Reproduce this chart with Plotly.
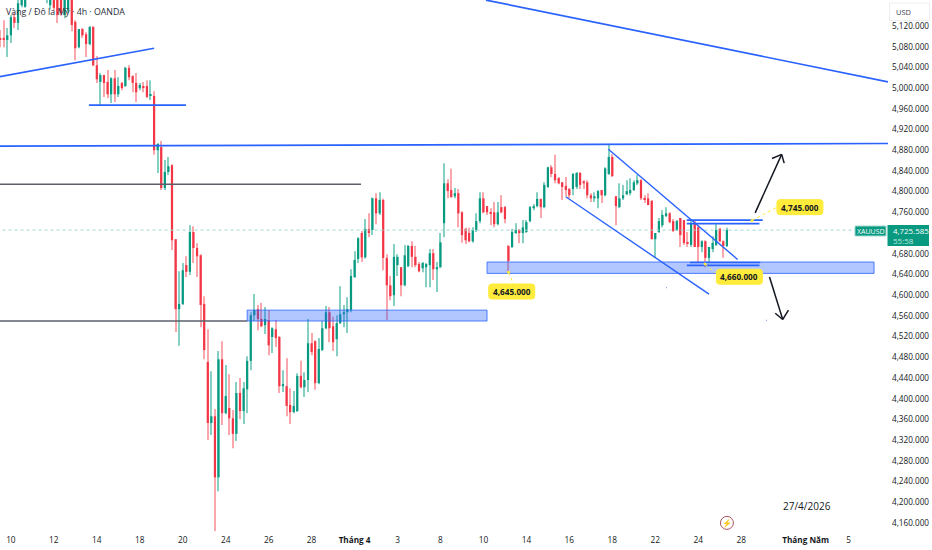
import plotly.graph_objects as go

# XAUUSD 4h candles (bars 6-19 run above the visible window)
opens = [5097, 5097, 5093, 5102, 5137, 5126, 5160, 5157, 5185, 5200,
         5215, 5205, 5195, 5185, 5160, 5190, 5185, 5190, 5141, 5150,
         5180, 5128, 5079, 5114, 5104, 5085, 5118, 5044, 5012, 5025,
         5012, 4988, 5019, 4988, 5010, 5004, 5039, 5023, 5010, 5000,
         5004, 5004, 4985, 4985, 4880, 4886, 4807, 4838, 4851, 4708,
         4573, 4583, 4658, 4645, 4722, 4691, 4677, 4583, 4471, 4353,
         4366, 4248, 4476, 4372, 4382, 4362, 4332, 4411, 4376, 4418,
         4473, 4561, 4573, 4554, 4542, 4552, 4519, 4534, 4519, 4424,
         4424, 4388, 4374, 4376, 4444, 4422, 4436, 4507, 4511, 4430,
         4494, 4536, 4567, 4540, 4515, 4546, 4563, 4567, 4571, 4635,
         4670, 4720, 4673, 4728, 4726, 4787, 4758, 4784, 4672, 4619,
         4600, 4658, 4654, 4619, 4656, 4695, 4674, 4660, 4652, 4654,
         4658, 4681, 4650, 4654, 4739, 4816, 4803, 4791, 4797, 4760,
         4728, 4720, 4704, 4726, 4743, 4787, 4772, 4760, 4760, 4737,
         4770, 4770, 4695, 4693, 4720, 4726, 4720, 4722, 4743, 4768,
         4772, 4786, 4770, 4809, 4847, 4834, 4826, 4818, 4811, 4805,
         4805, 4809, 4836, 4820, 4818, 4793, 4787, 4787, 4803, 4793,
         4834, 4867, 4791, 4770, 4787, 4795, 4797, 4803, 4816, 4822,
         4787, 4787, 4782, 4708, 4722, 4735, 4753, 4758, 4743, 4726,
         4749, 4745, 4702, 4697, 4739, 4731, 4693, 4704, 4672, 4689,
         4697, 4728, 4704, 4695]
highs = [5112, 5131, 5116, 5141, 5145, 5172, 5185, 5195, 5215, 5225,
         5230, 5220, 5210, 5215, 5200, 5205, 5200, 5205, 5200, 5195,
         5190, 5131, 5114, 5116, 5108, 5120, 5120, 5062, 5029, 5026,
         5035, 5021, 5035, 5021, 5012, 5041, 5044, 5025, 5029, 5010,
         5012, 5015, 5015, 4994, 4894, 4898, 4861, 4867, 4853, 4708,
         4646, 4662, 4675, 4735, 4733, 4700, 4679, 4598, 4534, 4453,
         4380, 4492, 4511, 4465, 4447, 4378, 4432, 4440, 4432, 4482,
         4567, 4602, 4581, 4585, 4577, 4571, 4538, 4552, 4521, 4455,
         4478, 4420, 4415, 4449, 4473, 4451, 4554, 4527, 4513, 4517,
         4550, 4579, 4577, 4558, 4561, 4617, 4581, 4596, 4650, 4685,
         4712, 4724, 4747, 4758, 4789, 4797, 4799, 4786, 4679, 4637,
         4699, 4679, 4654, 4697, 4697, 4704, 4695, 4664, 4664, 4662,
         4689, 4689, 4664, 4720, 4855, 4824, 4844, 4807, 4805, 4762,
         4730, 4730, 4731, 4758, 4799, 4799, 4772, 4768, 4780, 4780,
         4793, 4772, 4697, 4728, 4739, 4728, 4745, 4745, 4772, 4776,
         4799, 4786, 4818, 4848, 4851, 4871, 4828, 4818, 4828, 4807,
         4836, 4838, 4838, 4822, 4822, 4797, 4799, 4803, 4803, 4847,
         4890, 4872, 4791, 4816, 4813, 4822, 4826, 4822, 4832, 4824,
         4793, 4797, 4784, 4720, 4749, 4764, 4770, 4760, 4747, 4745,
         4749, 4745, 4722, 4743, 4743, 4735, 4706, 4706, 4693, 4714,
         4737, 4730, 4706, 4730]
lows = [5079, 5079, 5060, 5087, 5116, 5112, 5156, 5155, 5175, 5190,
        5195, 5185, 5178, 5164, 5152, 5150, 5126, 5140, 5135, 5145,
        5110, 5054, 5077, 5097, 5060, 5083, 5042, 5010, 4967, 4983,
        4981, 4971, 4973, 4983, 4996, 5002, 5015, 4992, 4973, 4996,
        4992, 4981, 4977, 4871, 4836, 4803, 4803, 4832, 4687, 4529,
        4502, 4581, 4635, 4639, 4662, 4635, 4538, 4476, 4320, 4330,
        4144, 4221, 4349, 4370, 4330, 4304, 4318, 4360, 4351, 4372,
        4455, 4550, 4532, 4538, 4525, 4484, 4488, 4500, 4411, 4413,
        4366, 4351, 4372, 4374, 4420, 4403, 4413, 4484, 4417, 4428,
        4492, 4534, 4509, 4492, 4482, 4544, 4538, 4527, 4567, 4633,
        4662, 4664, 4671, 4712, 4716, 4737, 4755, 4648, 4552, 4590,
        4579, 4637, 4598, 4617, 4654, 4654, 4654, 4644, 4644, 4615,
        4615, 4629, 4606, 4652, 4712, 4787, 4789, 4787, 4731, 4701,
        4699, 4702, 4701, 4722, 4739, 4758, 4755, 4735, 4731, 4735,
        4758, 4739, 4643, 4691, 4718, 4700, 4700, 4720, 4741, 4764,
        4770, 4749, 4768, 4807, 4828, 4816, 4814, 4784, 4791, 4787,
        4793, 4805, 4805, 4805, 4787, 4780, 4780, 4768, 4778, 4791,
        4832, 4828, 4735, 4768, 4784, 4793, 4793, 4801, 4813, 4784,
        4778, 4774, 4708, 4672, 4720, 4731, 4751, 4739, 4722, 4724,
        4693, 4697, 4693, 4693, 4693, 4664, 4683, 4654, 4664, 4683,
        4695, 4702, 4672, 4693]
closes = [5093, 5093, 5102, 5137, 5126, 5164, 5178, 5185, 5200, 5215,
          5205, 5195, 5185, 5200, 5190, 5155, 5141, 5145, 5185, 5180,
          5122, 5077, 5114, 5102, 5085, 5118, 5044, 5017, 5025, 5010,
          4988, 5019, 4988, 5004, 5000, 5039, 5021, 5010, 4992, 5006,
          5000, 4983, 4988, 4880, 4892, 4807, 4838, 4849, 4706, 4573,
          4583, 4648, 4645, 4722, 4691, 4675, 4581, 4494, 4353, 4366,
          4248, 4476, 4372, 4405, 4362, 4332, 4411, 4376, 4420, 4473,
          4561, 4571, 4554, 4540, 4554, 4503, 4536, 4517, 4424, 4428,
          4386, 4374, 4386, 4444, 4422, 4436, 4507, 4490, 4430, 4496,
          4536, 4567, 4536, 4509, 4546, 4563, 4567, 4573, 4637, 4668,
          4710, 4673, 4728, 4720, 4787, 4758, 4784, 4672, 4619, 4598,
          4674, 4674, 4619, 4677, 4695, 4674, 4658, 4646, 4662, 4660,
          4681, 4650, 4654, 4702, 4816, 4801, 4789, 4797, 4758, 4716,
          4706, 4704, 4726, 4743, 4787, 4760, 4760, 4757, 4737, 4760,
          4760, 4747, 4666, 4722, 4726, 4720, 4731, 4741, 4770, 4772,
          4786, 4770, 4813, 4847, 4834, 4822, 4816, 4809, 4803, 4793,
          4834, 4836, 4813, 4816, 4793, 4787, 4791, 4801, 4793, 4845,
          4867, 4830, 4772, 4787, 4793, 4801, 4803, 4818, 4822, 4787,
          4784, 4774, 4708, 4720, 4743, 4755, 4758, 4741, 4724, 4743,
          4716, 4701, 4699, 4739, 4693, 4693, 4704, 4672, 4693, 4701,
          4726, 4704, 4695, 4725.585]

date_ticks = [3, 15, 27, 39, 51, 63, 75, 87, 99, 111, 123, 135, 147, 159, 171, 183, 195, 207, 225, 237]
date_labels = ["10", "12", "14", "18", "20", "24", "26", "28", "<b style='font-size:8.2px'>Tháng 4</b>", "3", "8", "10",
               "14", "16", "18", "22", "24", "28", "<b style='font-size:8.2px'>Tháng Năm</b>", "5"]
price_ticks = [4160, 4200, 4240, 4280, 4320, 4360, 4400, 4440, 4480, 4520, 4560, 4600, 4640, 4680,
               4760, 4800, 4840, 4880, 4920, 4960, 5000, 5040, 5080, 5120]

FONT = "Open Sans"
UP = "#089981"
DOWN = "#F23645"
UP_WICK = "#85cfc3"
DOWN_WICK = "#f9a6ad"
BLUE = "#2962ff"
GREY = "#5d606b"
YELLOW = "#ffeb3b"

body_base = [min(o, c) for o, c in zip(opens, closes)]
body_size = [abs(o - c) for o, c in zip(opens, closes)]
is_up = [c >= o for o, c in zip(opens, closes)]
bars = list(range(len(opens)))

fig = go.Figure()
# wicks first and bodies on top, both as overlaid bars so the body covers the wick
fig.add_trace(go.Bar(
    x=bars, y=[h - l for h, l in zip(highs, lows)], base=lows, width=0.3,
    marker=dict(color=[UP_WICK if u else DOWN_WICK for u in is_up], line_width=0),
))
fig.add_trace(go.Bar(
    x=bars, y=body_size, base=body_base, width=0.62,
    marker=dict(color=[UP if u else DOWN for u in is_up], line_width=0),
))

def line(x0, y0, x1, y1, color=BLUE, width=1.7, dash="solid"):
    fig.add_shape(type="line", x0=x0, y0=y0, x1=x1, y1=y1, line=dict(color=color, width=width, dash=dash))

# price line
line(-1, 4725.585, 239, 4725.585, color="#9fd9cf", width=1, dash="dot")

# support zones
for x0, x1, low, high in [(69, 136, 4550, 4571), (136, 244.1, 4642, 4664)]:
    fig.add_shape(type="rect", x0=x0, x1=x1, y0=low, y1=high,
                  fillcolor="rgba(41,98,255,0.36)", line=dict(color="rgba(41,98,255,0.8)", width=1))

# blue drawings
line(135.7, 5170, 248, 5012)
line(-1, 5021, 43, 5077)
line(24.8, 4967, 51.9, 4967)
line(-1, 4888, 248, 4893)
line(169.9, 4882, 206, 4669, width=1.4)
line(158, 4790, 198, 4602, width=1.4)
line(191.8, 4745, 213, 4745)
line(191.8, 4738, 212.1, 4738)
line(192.7, 4663, 212.3, 4663)
line(191.8, 4657.5, 212.1, 4657.5)
line(186, 4615, 186.2, 4614, width=1)
line(213.9, 4552, 214.1, 4551, width=1)

# grey levels
line(-1, 4814, 100.8, 4814, color=GREY, width=1.5)
line(-1, 4550, 69, 4550, color=GREY, width=1.5)

# arrows
line(210.9, 4759, 218.3, 4872, color="#131722", width=1.5)
line(215.6, 4864, 218.3, 4872, color="#131722", width=1.5)
line(219, 4855, 218.3, 4872, color="#131722", width=1.5)
line(214.9, 4635, 218.6, 4553, color="#131722", width=1.5)
line(216.5, 4565, 218.6, 4553, color="#131722", width=1.5)
line(220.2, 4571, 218.6, 4553, color="#131722", width=1.5)

def round_box(x, y, w, h, r, fill, border=None):
    # rounded box sized in pixels around a data anchor
    a, b = w / 2, h / 2
    path = (f"M {-a+r} {-b} L {a-r} {-b} Q {a} {-b} {a} {-b+r} L {a} {b-r} Q {a} {b} {a-r} {b} "
            f"L {-a+r} {b} Q {-a} {b} {-a} {b-r} L {-a} {-b+r} Q {-a} {-b} {-a+r} {-b} Z")
    fig.add_shape(type="path", path=path, xsizemode="pixel", ysizemode="pixel", xanchor=x, yanchor=y,
                  fillcolor=fill, line=dict(color=border or fill, width=1))

def text(x, y, s, size=9.5, color="#131722", xanchor="center", xref="x", yref="y", **kw):
    fig.add_annotation(x=x, y=y, xref=xref, yref=yref, text=s, showarrow=False, xanchor=xanchor, yanchor="middle",
                       font=dict(family=FONT, size=size, color=color), borderpad=0, **kw)

# yellow price callouts
for bar, price, lx, ly, cx, cy, label in [
    (142, 4644, 143.4, 4621, 142.9, 4607, "4,645.000"),
    (196.9, 4660, 199.7, 4643, 206.5, 4635.5, "4,660.000"),
    (210, 4744, 217, 4770, 223.4, 4770, "4,745.000"),
]:
    line(bar, price, lx, ly, color=YELLOW, width=1, dash="dot")
    fig.add_shape(type="circle", xsizemode="pixel", ysizemode="pixel", xanchor=bar, yanchor=price,
                  x0=-1.5, x1=1.5, y0=-1.5, y1=1.5, fillcolor=YELLOW, line=dict(color=YELLOW, width=0))
    round_box(cx, cy, 46, 15, 3, YELLOW)
    text(cx, cy, "<b>" + label + "</b>", size=8.2)

text(0.006, 0.977, "Vàng / Đô la Mỹ · 4h · OANDA", size=8.8, color="#2a2e39", xanchor="left", xref="paper", yref="paper")
text(225.5, 4192, "27/4/2026", size=10, color="#131722")

# lightning icon
fig.add_shape(type="circle", xsizemode="pixel", ysizemode="pixel", xanchor=203, yanchor=4160,
              x0=-6.5, x1=6.5, y0=-6.5, y1=6.5, fillcolor="white", line=dict(color="#a8505c", width=1))
text(203, 4160, "⚡", size=8, color="#c0394b")

# right hand price tags, placed on the axis side in paper coordinates
W = 888
H = 531
fig.add_shape(type="rect", xref="paper", yref="paper", x0=887.5 / W, x1=929 / W, y0=(H - 246) / H, y1=(H - 225) / H,
              fillcolor=UP, line=dict(color=UP, width=0))
fig.add_shape(type="rect", xref="paper", yref="paper", x0=855 / W, x1=886 / W, y0=(H - 236) / H, y1=(H - 226) / H,
              fillcolor=UP, line=dict(color="#9fd9cf", width=1))
text(870.5 / W, (H - 231) / H, "XAUUSD", size=7, color="white", xref="paper", yref="paper")
text(892 / W, (H - 230.5) / H, "4,725.585", size=7.9, color="white", xanchor="left", xref="paper", yref="paper")
text(892 / W, (H - 240) / H, "55:58", size=8, color="#bfe6df", xanchor="left", xref="paper", yref="paper")
fig.add_shape(type="rect", xref="paper", yref="paper", x0=889.5 / W, x1=929.5 / W, y0=(H - 20.5) / H, y1=(H - 3) / H,
              fillcolor="white", line=dict(color="#eceef2", width=1))
text(895 / W, (H - 11.7) / H, "USD", size=7.5, color="#434651", xanchor="left", xref="paper", yref="paper")

fig.update_layout(
    width=932, height=550,
    margin=dict(l=0, r=44, t=0, b=19),
    paper_bgcolor="white", plot_bgcolor="white",
    barmode="overlay", showlegend=False,
    font=dict(family=FONT, size=9, color="#131722"),
)
fig.update_xaxes(range=[-0.04, 248], tickmode="array", tickvals=date_ticks, ticktext=date_labels, ticklabelstandoff=3,
                 showgrid=False, zeroline=False, showline=False, ticks="", tickangle=0, tickfont=dict(size=8.3))
fig.update_yaxes(range=[4144.3, 5170.2], side="right", tickmode="array", tickvals=price_ticks, tickformat=",.3f", ticklabelstandoff=3,
                 showgrid=False, zeroline=False, showline=False, ticks="", tickfont=dict(size=8.2))

fig.write_html("out.html", post_script="document.body.style.margin='0';", config={"displayModeBar": False})
